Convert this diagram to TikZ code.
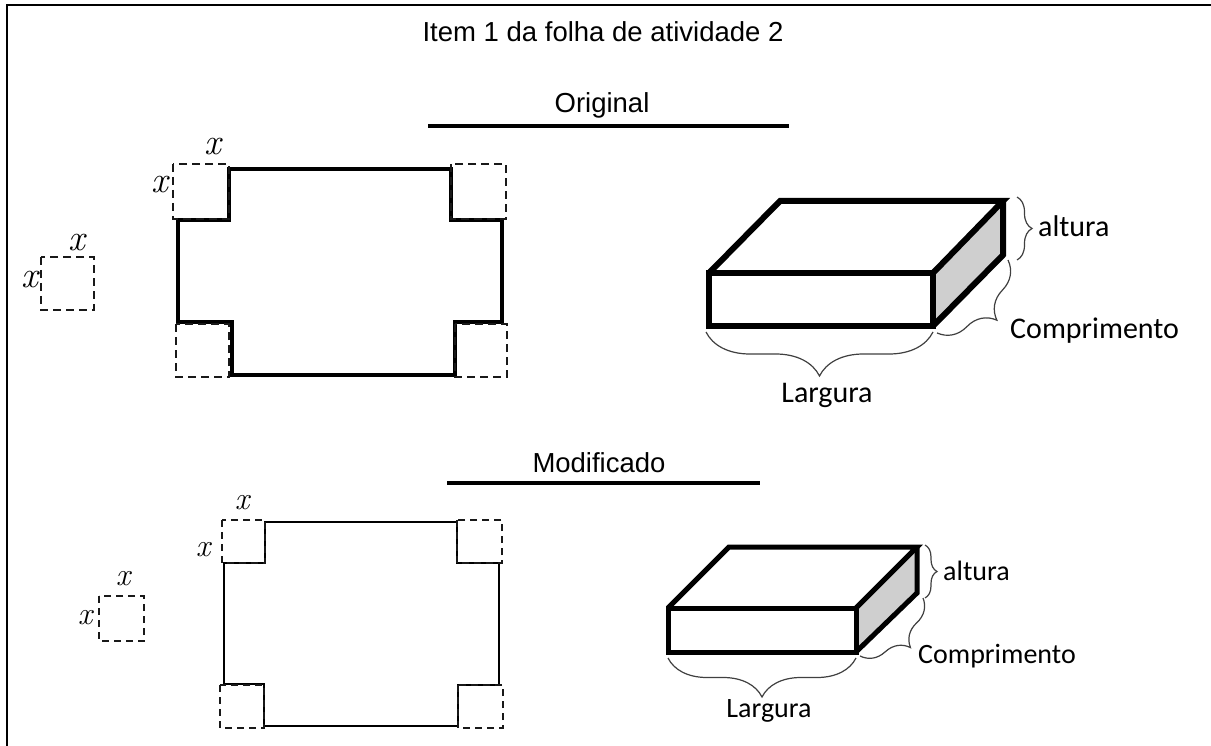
\documentclass[tikz,border=0pt]{standalone}
\usepackage{fontspec}
\setmainfont{Liberation Sans}
\newfontfamily\calfont{Carlito}
\newfontfamily\xfont{Latin Modern Roman}
\usetikzlibrary{decorations.pathreplacing}
\begin{document}
\begin{tikzpicture}[x=1pt,y=-1pt,
  outline/.style={line width=3.2pt,line join=miter},
  outlinesm/.style={line width=2.6pt,line join=miter},
  cutsq/.style={line width=2.6pt,dash pattern=on 8pt off 5pt,draw=black!90},
  cutsqsm/.style={line width=2.3pt,dash pattern=on 7pt off 5pt,draw=black!90},
  boxline/.style={line width=6pt,line join=miter},
  boxlinesm/.style={line width=5pt,line join=miter},
  sideface/.style={fill=black!19},
  measbrace/.style={decorate,draw=black!75,line width=1.2pt},
  heading/.style={font=\fontsize{27.5}{30}\selectfont,anchor=base,inner sep=0pt},
  lbl/.style={font=\calfont\fontsize{30}{32}\selectfont,inner sep=0pt},
  lblsm/.style={font=\calfont\fontsize{28}{30}\selectfont,inner sep=0pt},
  xlbl/.style={font=\xfont\itshape\fontsize{37}{37}\selectfont,inner sep=0pt},
  xlblsm/.style={font=\xfont\itshape\fontsize{32}{32}\selectfont,inner sep=0pt},
  rule/.style={line width=4pt}]
\useasboundingbox (0,0) rectangle (1211,746);
\fill[white] (0,0) rectangle (1211,746);
% frame
\draw[line width=2pt] (7,746) -- (7,5) -- (1211,5);

% headings
\node[heading] (title) at (603,42) {Item 1 da folha de atividade 2};
\node[heading] (orig) at (602,113) {Original};
\coordinate (oruleL) at (428,126); \coordinate (oruleR) at (789,126);
\draw[rule] (oruleL) -- (oruleR);
\node[heading] (modif) at (599,472) {Modificado};
\coordinate (mruleL) at (447,483); \coordinate (mruleR) at (760,483);
\draw[rule] (mruleL) -- (mruleR);

% ===== Original net =====
\draw[outline] (229,169) -- (451,169) -- (451,220) -- (502,220) -- (502,322) -- (455,322)
  -- (455,375) -- (232,375) -- (232,322) -- (178,322) -- (178,220) -- (229,220) -- cycle;
\draw[cutsq] (173,164) rectangle (229,219);
\draw[cutsq] (451,164) rectangle (506,219);
\draw[cutsq] (176,324) rectangle (229,377);
\draw[cutsq] (455,324) rectangle (507,377);
\draw[cutsq] (41,257) rectangle (94,310);
\node[xlbl] (x1) at (213,147) {x};
\node[xlbl] (x2) at (160,185) {x};
\node[xlbl] (x3) at (77,243) {x};
\node[xlbl] (x4) at (30,280) {x};

% ===== Original box =====
\coordinate (fa) at (709,273); \coordinate (fb) at (933,273);
\coordinate (fc) at (933,326); \coordinate (fd) at (709,326);
\coordinate (ba) at (780,201); \coordinate (bb) at (1003,201);
\coordinate (bc) at (1003,255);
\fill[sideface] (fb) -- (bb) -- (bc) -- (fc) -- cycle;
\draw[boxline] (fa) -- (fb) -- (fc) -- (fd) -- cycle;
\draw[boxline] (fa) -- (ba) -- (bb) -- (fb);
\draw[boxline] (bb) -- (bc) -- (fc);
\coordinate (altA) at (1017,197); \coordinate (altB) at (1017,260);
\draw[measbrace,decoration={brace,amplitude=15pt}] (altA) -- (altB);
\node[lbl,anchor=base west] (alt1) at (1038,237) {altura};
\coordinate (comA) at (1008,260); \coordinate (comB) at (937,333);
\draw[measbrace,decoration={brace,amplitude=34pt}] (comA) -- (comB);
\node[lbl,anchor=base west] (com1) at (1010,338) {Comprimento};
\coordinate (larA) at (933,332); \coordinate (larB) at (706,332);
\draw[measbrace,decoration={brace,amplitude=44pt}] (larA) -- (larB);
\node[lbl,anchor=base] (lar1) at (827,402) {Largura};

% ===== Modified net =====
\draw[outlinesm] (265,522) -- (457,522) -- (457,563) -- (499,563) -- (499,685) -- (458,685)
  -- (458,726) -- (264,726) -- (264,684) -- (224,684) -- (224,563) -- (265,563) -- cycle;
\draw[cutsqsm] (222,520) rectangle (265,563);
\draw[cutsqsm] (457,520) rectangle (502,563);
\draw[cutsqsm] (220,685) rectangle (264,728);
\draw[cutsqsm] (458,685) rectangle (503,728);
\draw[cutsqsm] (99,596) rectangle (144,641);
\node[xlblsm] (x5) at (242,503) {x};
\node[xlblsm] (x6) at (203,550) {x};
\node[xlblsm] (x7) at (123,579) {x};
\node[xlblsm] (x8) at (85,618) {x};

% ===== Modified box =====
\coordinate (ga) at (668,608); \coordinate (gb) at (856,608);
\coordinate (gc) at (856,652); \coordinate (gd) at (668,652);
\coordinate (ha) at (729,547); \coordinate (hb) at (917,547);
\coordinate (hc) at (917,593);
\fill[sideface] (gb) -- (hb) -- (hc) -- (gc) -- cycle;
\draw[boxlinesm] (ga) -- (gb) -- (gc) -- (gd) -- cycle;
\draw[boxlinesm] (ga) -- (ha) -- (hb) -- (gb);
\draw[boxlinesm] (hb) -- (hc) -- (gc);
\coordinate (alt2A) at (925,545); \coordinate (alt2B) at (925,598);
\draw[measbrace,decoration={brace,amplitude=12pt}] (alt2A) -- (alt2B);
\node[lblsm,anchor=base west] (alt2) at (943,580) {altura};
\coordinate (com2A) at (923,598); \coordinate (com2B) at (860,656);
\draw[measbrace,decoration={brace,amplitude=28pt}] (com2A) -- (com2B);
\node[lblsm,anchor=base west] (com2) at (918,663) {Comprimento};
\coordinate (lar2A) at (856,658); \coordinate (lar2B) at (668,658);
\draw[measbrace,decoration={brace,amplitude=39pt}] (lar2A) -- (lar2B);
\node[lblsm,anchor=base] (lar2) at (769,717) {Largura};
\end{tikzpicture}
\end{document}
